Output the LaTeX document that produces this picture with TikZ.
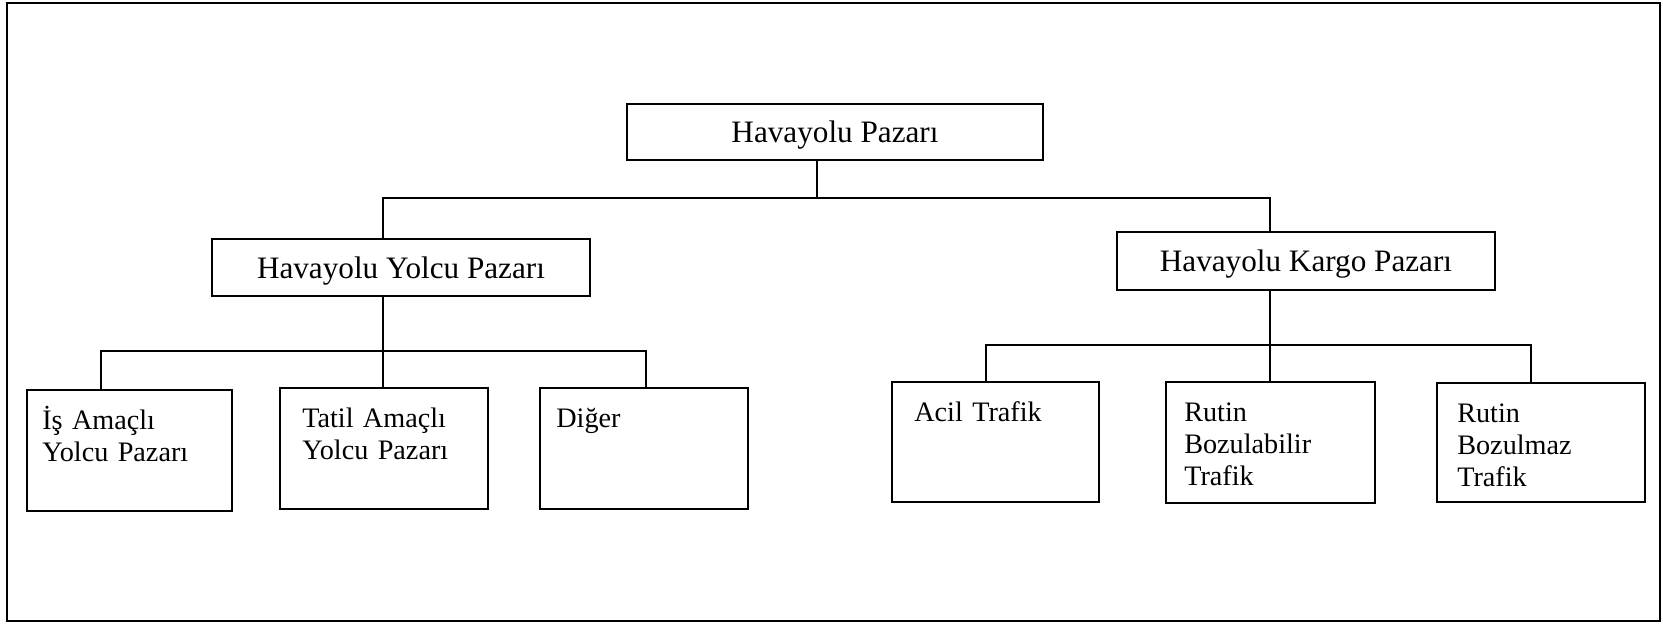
\documentclass[tikz,border=0pt]{standalone}
\usepackage{fontspec}
\setmainfont{Liberation Serif}
\usetikzlibrary{calc}
\begin{document}
\begin{tikzpicture}[x=0.5pt,y=-0.5pt,
  box/.style={draw, line width=1.1pt, inner sep=0pt},
  wire/.style={line width=1.1pt},
  headtext/.style={font=\fontsize{15.6}{18}\selectfont, text depth=0pt},
  leaftext/.style={font=\fontsize{14.1}{16}\selectfont, text width=95pt,
    align=left, anchor=base west, inner sep=0pt}]
\useasboundingbox (0,0) rectangle (1663,624);
% outer frame
\draw[line width=1.2pt] (7,3) rectangle (1660,621);

% top level
\node[box, headtext, minimum width=208pt, minimum height=28pt] (top) at (835,132) {Havayolu Pazarı};

% second level
\node[box, headtext, minimum width=189pt, minimum height=28.5pt] (pax) at (401,267.5) {Havayolu Yolcu Pazarı};
\node[box, headtext, minimum width=189pt, minimum height=29pt] (cargo) at (1306,261) {Havayolu Kargo Pazarı};

% leaves of the passenger market
\node[box, minimum width=102.5pt, minimum height=60.5pt] (l1) at (129.5,450.5) {};
\node[box, minimum width=104pt, minimum height=60.5pt] (l2) at (384,448.5) {};
\node[box, minimum width=104pt, minimum height=60.5pt] (l3) at (644,448.5) {};
% leaves of the cargo market
\node[box, minimum width=103.5pt, minimum height=60pt] (l4) at (995.5,442) {};
\node[box, minimum width=104.5pt, minimum height=60.5pt] (l5) at (1270.5,442.5) {};
\node[box, minimum width=104pt, minimum height=59.5pt] (l6) at (1541,442.5) {};

% leaf texts
\node[leaftext] (t1) at ($(l1.north west)+(16,41)$) {İş Amaçlı\\Yolcu Pazarı};
\node[leaftext] (t2) at ($(l2.north west)+(23,41)$) {Tatil Amaçlı\\Yolcu Pazarı};
\node[leaftext] (t3) at ($(l3.north west)+(17,41)$) {Diğer};
\node[leaftext] (t4) at ($(l4.north west)+(23,41)$) {Acil Trafik};
\node[leaftext] (t5) at ($(l5.north west)+(19,41)$) {Rutin\\Bozulabilir\\Trafik};
\node[leaftext] (t6) at ($(l6.north west)+(21,41)$) {Rutin\\Bozulmaz\\Trafik};

% junction points
\coordinate (j0) at (817,198);
\coordinate (jl) at (383,198);
\coordinate (jr) at (1270,198);
\coordinate (hl) at (383,351);
\coordinate (d1) at (101,351);
\coordinate (d3) at (646,351);
\coordinate (hr) at (1270,345);
\coordinate (d4) at (986,345);
\coordinate (d6) at (1531,345);

% connectors
\draw[wire] (top.south -| j0) -- (j0);
\draw[wire] (pax.north -| jl) -- (jl) -- (jr) -- (cargo.north -| jr);

\draw[wire] (pax.south -| hl) -- (hl);
\draw[wire] (l1.north -| d1) -- (d1) -- (d3) -- (l3.north -| d3);
\draw[wire] (hl) -- (l2.north -| hl);

\draw[wire] (cargo.south -| hr) -- (hr);
\draw[wire] (l4.north -| d4) -- (d4) -- (d6) -- (l6.north -| d6);
\draw[wire] (hr) -- (l5.north -| hr);
\end{tikzpicture}
\end{document}
